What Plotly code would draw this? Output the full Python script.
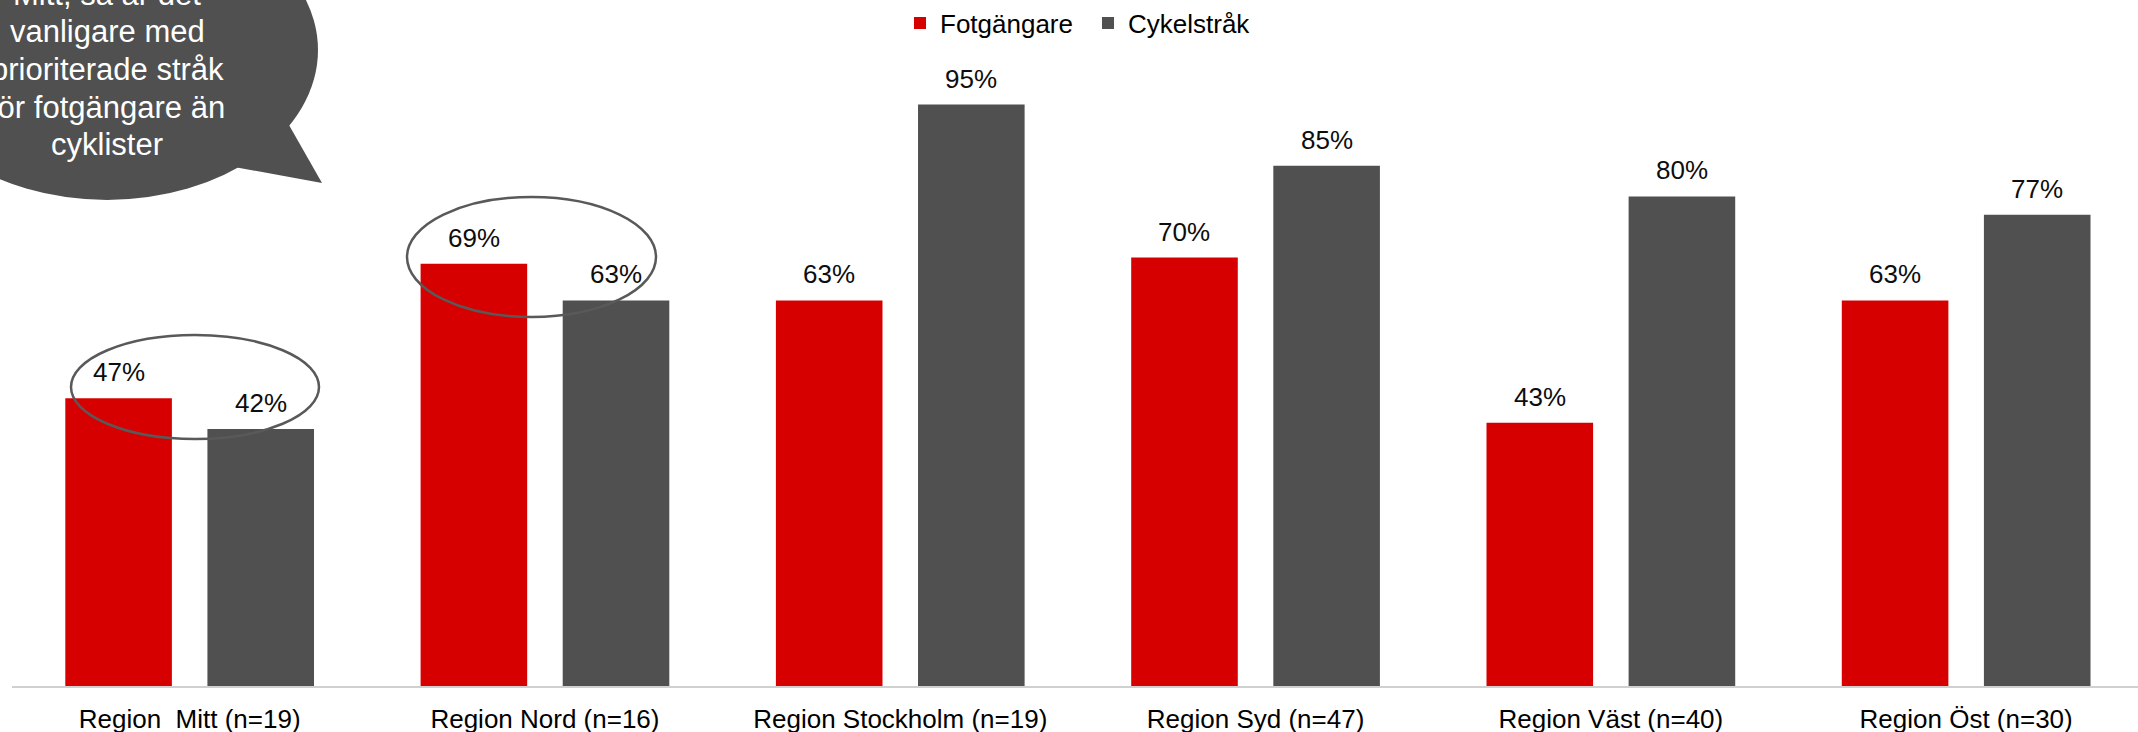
import plotly.graph_objects as go

# ---- data ----
categories = ["Region\u00a0 Mitt (n=19)", "Region Nord (n=16)", "Region Stockholm (n=19)",
              "Region Syd (n=47)", "Region Väst (n=40)", "Region Öst (n=30)"]
fotgangare = [47, 69, 63, 70, 43, 63]
cykelstrak = [42, 63, 95, 85, 80, 77]
series_names = ["Fotgängare", "Cykelstråk"]
bubble_lines = ["Mitt, så är det", "vanligare med", "prioriterade stråk", "för fotgängare än", "cyklister"]

RED = "#D70000"
GRAY = "#505050"
FONT = "Arial, Liberation Sans, sans-serif"

W_FIG, H_FIG = 2138, 732
L, T, R, B = 12, 74, 0, 46
PW, PH = W_FIG - L - R, H_FIG - T - B

def pu(px):
    return (px - L) / PW

def pv(py):
    return (T + PH - py) / PH

offset = 0.2
bw = 0.3
xs = list(range(len(categories)))

fig = go.Figure()
fig.add_trace(go.Bar(x=[x - offset for x in xs], y=fotgangare, width=bw, name=series_names[0],
                     marker=dict(color=RED, line=dict(width=0))))
fig.add_trace(go.Bar(x=[x + offset for x in xs], y=cykelstrak, width=bw, name=series_names[1],
                     marker=dict(color=GRAY, line=dict(width=0))))

annotations = []
for x, a, b in zip(xs, fotgangare, cykelstrak):
    for xx, v in ((x - offset, a), (x + offset, b)):
        annotations.append(dict(x=xx, y=v, xref="x", yref="y", text=f"{v}%", showarrow=False,
                                yanchor="middle", yshift=26,
                                font=dict(family=FONT, size=26, color="#0d0d0d")))

# speech bubble text
bubble_cx = 107
bubble_line_y = [-6, 31, 69, 107, 144]
for line, ly in zip(bubble_lines, bubble_line_y):
    annotations.append(dict(x=pu(bubble_cx), y=pv(ly), xref="paper", yref="paper",
                            text=line, showarrow=False, xanchor="center", yanchor="middle",
                            font=dict(family=FONT, size=31, color="#ffffff")))

shapes = [
    # speech bubble
    dict(type="circle", xref="paper", yref="paper", x0=pu(-104), x1=pu(318), y0=pv(200), y1=pv(-100),
         fillcolor=GRAY, line=dict(width=0), layer="above"),
    dict(type="path", xref="paper", yref="paper",
         path=f"M{pu(285)},{pv(118)} L{pu(322)},{pv(183)} L{pu(218)},{pv(164)} Z",
         fillcolor=GRAY, line=dict(width=0), layer="above"),
    # highlight ellipses
    dict(type="circle", xref="paper", yref="paper", x0=pu(71), x1=pu(319), y0=pv(439), y1=pv(335),
         fillcolor="rgba(0,0,0,0)", line=dict(color="#595959", width=2.5), layer="above"),
    dict(type="circle", xref="paper", yref="paper", x0=pu(407), x1=pu(656), y0=pv(317), y1=pv(197),
         fillcolor="rgba(0,0,0,0)", line=dict(color="#595959", width=2.5), layer="above"),
]

fig.update_layout(
    width=W_FIG, height=H_FIG,
    margin=dict(l=L, r=R, t=T, b=B, pad=0, autoexpand=False),
    paper_bgcolor="white", plot_bgcolor="white",
    barmode="overlay",
    font=dict(family=FONT, size=26, color="#000000"),
    showlegend=True,
    legend=dict(orientation="h", x=pu(900), xanchor="left", y=pv(23), yanchor="middle",
                font=dict(family=FONT, size=26, color="#000000"), bgcolor="rgba(0,0,0,0)",
                itemwidth=30, traceorder="normal", entrywidth=143, entrywidthmode="pixels"),
    xaxis=dict(range=[-0.5, -0.5 + PW / 355.3], tickmode="array", tickvals=xs, ticktext=categories,
               showgrid=False, zeroline=False, showline=True, linecolor="#d0d0d0", linewidth=2,
               automargin=False,
               ticks="", ticklabelstandoff=9, tickfont=dict(family=FONT, size=26, color="#000000")),
    yaxis=dict(range=[0, 100], visible=False, showgrid=False, zeroline=False, automargin=False),
    annotations=annotations,
    shapes=shapes,
)

fig.write_html("out.html", config={"displayModeBar": False},
               post_script="document.body.style.margin='0';document.body.style.overflow='hidden';")
